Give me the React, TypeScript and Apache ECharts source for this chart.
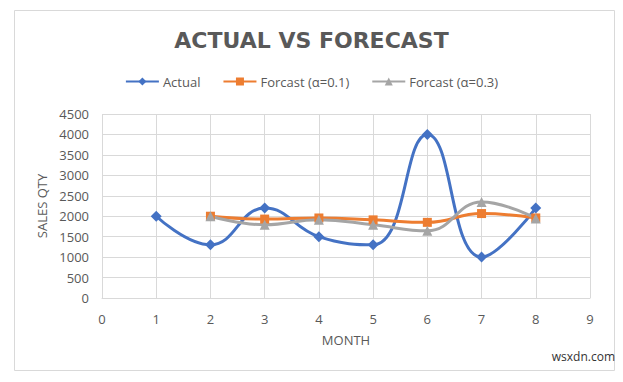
import React, { useEffect, useRef } from "react";
import * as echarts from "echarts";

const months = [1, 2, 3, 4, 5, 6, 7, 8];
const actual = [2000, 1300, 2200, 1500, 1300, 4000, 1000, 2200];
const forecast01 = [null, 2000, 1930, 1957, 1911, 1850, 2065, 1958];
const forecast03 = [null, 2000, 1790, 1913, 1789, 1642, 2350, 1945];

const FONT = "Open Sans";
const TXT = "#595959";

function pairs(vals: (number | null)[]) {
  const out: [number, number][] = [];
  vals.forEach((v, i) => {
    if (v !== null) out.push([months[i], v]);
  });
  return out;
}

export default function App() {
  const ref = useRef<HTMLDivElement>(null);
  useEffect(() => {
    if (!ref.current) return;
    const chart = echarts.init(ref.current, undefined, { renderer: "svg" });
    chart.setOption({
      animation: false,
      backgroundColor: "#ffffff",
      textStyle: { fontFamily: FONT },
      title: {
        text: "ACTUAL VS FORECAST",
        left: "center",
        top: 24,
        textStyle: { fontFamily: "DejaVu Sans", fontSize: 22, fontWeight: "bold", color: TXT },
      },
      legend: {
        top: 70,
        left: "center",
        itemWidth: 33,
        itemHeight: 10,
        itemGap: 22,
        textStyle: { fontFamily: FONT, fontSize: 13, color: TXT, padding: [0, 0, 0, -1] },
        data: ["Actual", "Forcast (α=0.1)", "Forcast (α=0.3)"],
      },
      graphic: [
        {
          type: "rect",
          shape: { x: 14.5, y: 10.5, width: 600, height: 360 },
          style: { fill: "none", stroke: "#d9d9d9", lineWidth: 1 },
          silent: true,
        },
        {
          type: "text",
          right: 8,
          top: 350,
          style: { text: "wsxdn.com", fontFamily: FONT, fontSize: 12, fill: "#333333" },
          silent: true,
        },
      ],
      grid: { left: 102, right: 33, top: 114, bottom: 84 },
      xAxis: {
        type: "value",
        min: 0,
        max: 9,
        interval: 1,
        name: "MONTH",
        nameLocation: "middle",
        nameGap: 35,
        nameTextStyle: { fontFamily: FONT, fontSize: 13, color: TXT },
        axisLine: { show: true, lineStyle: { color: "#d9d9d9" } },
        axisTick: { show: false },
        axisLabel: { fontFamily: FONT, fontSize: 13, color: TXT, margin: 14 },
        splitLine: { show: true, lineStyle: { color: "#d9d9d9" } },
      },
      yAxis: {
        type: "value",
        min: 0,
        max: 4500,
        interval: 500,
        name: "SALES QTY",
        nameLocation: "middle",
        nameGap: 45,
        nameRotate: 90,
        nameTextStyle: { fontFamily: FONT, fontSize: 13, color: TXT },
        axisLine: { show: false },
        axisTick: { show: false },
        axisLabel: { fontFamily: FONT, fontSize: 13, color: TXT, margin: 13, formatter: (v: number) => String(v) },
        splitLine: { show: true, lineStyle: { color: "#d9d9d9" } },
      },
      series: [
        {
          name: "Actual",
          type: "line",
          smooth: 0.45,
          data: pairs(actual),
          symbol: "diamond",
          symbolSize: 11,
          lineStyle: { color: "#4472C4", width: 3 },
          itemStyle: { color: "#4472C4" },
        },
        {
          name: "Forcast (α=0.1)",
          type: "line",
          smooth: 0.45,
          data: pairs(forecast01),
          symbol: "rect",
          symbolSize: 9,
          lineStyle: { color: "#ED7D31", width: 3 },
          itemStyle: { color: "#ED7D31" },
        },
        {
          name: "Forcast (α=0.3)",
          type: "line",
          smooth: 0.45,
          data: pairs(forecast03),
          symbol: "triangle",
          symbolSize: 10,
          lineStyle: { color: "#A5A5A5", width: 3 },
          itemStyle: { color: "#A5A5A5" },
        },
      ],
    });
    return () => chart.dispose();
  }, []);
  return (
    <div
      ref={ref}
      style={{ position: "fixed", left: 0, top: 0, width: 623, height: 382 }}
    />
  );
}
